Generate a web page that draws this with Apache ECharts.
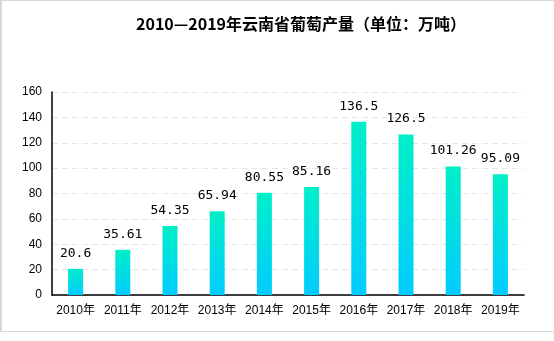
<!DOCTYPE html>
<html>
<head>
<meta charset="utf-8">
<script src="https://cdn.jsdelivr.net/npm/echarts@6/dist/echarts.min.js"></script>
<style>
html,body{margin:0;padding:0;background:#fff;}
#frame{position:absolute;left:0;top:0;width:552px;height:330px;border:1px solid #d9d9d9;border-left-width:2px;}
#chart{position:absolute;left:0;top:0;width:554px;height:341px;}
</style>
</head>
<body>
<div id="frame"></div>
<div id="chart"></div>
<script>
const years = ['2010年','2011年','2012年','2013年','2014年','2015年','2016年','2017年','2018年','2019年'];
const output = [20.6, 35.61, 54.35, 65.94, 80.55, 85.16, 136.5, 126.5, 101.26, 95.09];
const valueLabels = ['20.6','35.61','54.35','65.94','80.55','85.16','136.5','126.5','101.26','95.09'];
const yTicks = [0, 20, 40, 60, 80, 100, 120, 140, 160];

const chart = echarts.init(document.getElementById('chart'), null, {renderer: 'canvas'});
chart.setOption({
  animation: false,
  backgroundColor: 'transparent',
  title: {
    text: '2010—2019年云南省葡萄产量（单位：万吨）',
    left: 131,
    top: 11,
    textStyle: {fontSize: 16, fontWeight: 'bold', color: '#000', fontFamily: '"Noto Sans CJK SC", sans-serif'}
  },
  grid: {left: 52, right: 30, top: 92, bottom: 46},
  xAxis: {
    type: 'category',
    data: years,
    axisLine: {lineStyle: {color: '#000', width: 1.5}},
    axisTick: {show: false},
    axisLabel: {color: '#000', fontSize: 12, margin: 10, fontFamily: 'Arial, "Liberation Sans", "Noto Sans CJK SC", sans-serif', interval: 0}
  },
  yAxis: {
    type: 'value',
    min: yTicks[0],
    max: yTicks[yTicks.length - 1],
    interval: 20,
    axisLine: {show: true, lineStyle: {color: '#000', width: 1.5}},
    axisTick: {show: false},
    axisLabel: {color: '#000', fontSize: 12, margin: 10, fontFamily: 'Arial, "Liberation Sans", sans-serif'},
    splitLine: {lineStyle: {color: '#e6e6e6', type: [6, 4]}}
  },
  series: [{
    type: 'bar',
    data: output,
    barWidth: 15,
    itemStyle: {
      color: new echarts.graphic.LinearGradient(0, 0, 0, 1, [
        {offset: 0, color: '#00EFC8'},
        {offset: 1, color: '#00CCFF'}
      ])
    },
    label: {
      show: true,
      position: 'top',
      distance: 9,
      color: '#000',
      fontSize: 13,
      fontFamily: '"DejaVu Sans Mono", monospace',
      formatter: p => valueLabels[p.dataIndex]
    }
  }]
});
</script>
</body>
</html>
